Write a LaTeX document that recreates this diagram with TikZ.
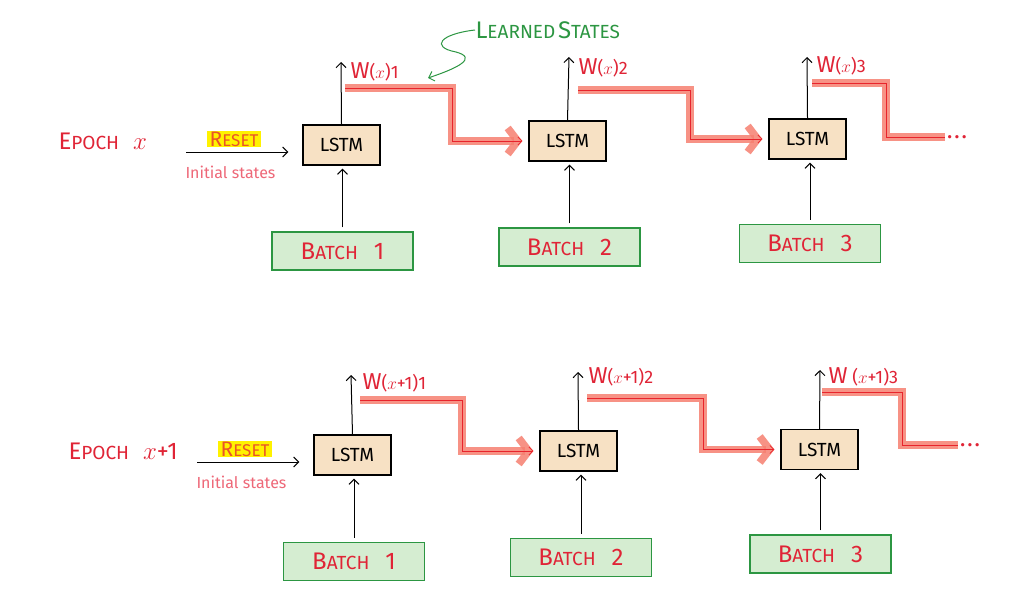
\documentclass[tikz,border=0pt]{standalone}
\usepackage{fontspec}
\setmainfont{Fira Sans}
\usetikzlibrary{arrows.meta,positioning,calc}

\definecolor{inkred}{RGB}{224,36,54}
\definecolor{softred}{RGB}{238,104,120}
\definecolor{glowred}{RGB}{246,128,112}
\definecolor{corered}{RGB}{232,36,44}
\definecolor{lstmfill}{RGB}{247,225,196}
\definecolor{batchfill}{RGB}{213,237,209}
\definecolor{batchline}{RGB}{44,150,66}
\definecolor{hilite}{RGB}{255,242,0}
\definecolor{resetred}{RGB}{234,84,40}

% first letter big, rest smaller (hand lettered small caps)
\newcommand{\bigsc}[2]{{\fontsize{24}{28}\selectfont #1}{\fontsize{19}{22}\selectfont #2}}
\newcommand{\smallsc}[2]{{\fontsize{21}{24}\selectfont #1}{\fontsize{17}{20}\selectfont #2}}
\newcommand{\wlab}[1]{{\fontsize{23}{26}\selectfont W}{\fontsize{18}{21}\selectfont #1}}
\newcommand{\learnedpath}[2][]{\draw[stateglow,#1] #2; \draw[statecore,#1] #2;}

\tikzset{
  lstm/.style={draw=black,fill=lstmfill,line width=1.2pt,minimum width=77pt,minimum height=40pt,
    font=\fontsize{19}{22}\selectfont},
  batch/.style={draw=batchline,fill=batchfill,line width=1.2pt,minimum width=141pt,minimum height=38pt,
    text=inkred,font=\fontsize{24}{28}\selectfont},
  wlabel/.style={anchor=west,text=inkred,inner sep=0pt,font=\fontsize{18}{21}\selectfont},
  epoch/.style={anchor=west,text=inkred,inner sep=0pt,font=\fontsize{24}{28}\selectfont},
  reset/.style={fill=hilite,text=resetred,inner xsep=3pt,inner ysep=1pt},
  initlabel/.style={anchor=west,text=softred,inner sep=0pt,font=\fontsize{16}{19}\selectfont},
  more/.style={anchor=west,text=inkred,inner sep=0pt,font=\fontsize{18}{20}\selectfont\bfseries},
  stateglow/.style={draw=glowred,opacity=0.85,line width=7.5pt,-{Straight Barb[length=10pt,width=26pt]}},
  statecore/.style={draw=corered,line width=0.8pt,-{Straight Barb[length=4pt,width=8pt]}},
}

\begin{document}
\begin{tikzpicture}[x=1pt,y=-1pt,>={Straight Barb[length=5pt,width=10pt]},line width=1pt]
  \fill[white] (0,0) rectangle (1024,599);
  \useasboundingbox (0,0) rectangle (1024,599);

  %% epoch x
  \node[epoch] (epochA) at (58,141) {\bigsc{E}{POCH}\hspace{14pt}$x$};
  \node[reset] (resetA) at (234,139) {\smallsc{R}{ESET}};
  \node[initlabel] (initA) at (185,172) {Initial states};
  \coordinate (rA) at (186,152);

  \node[lstm] (lstmA1) at (341.5,145) {LSTM};
  \node[lstm] (lstmA2) at (567.5,141) {LSTM};
  \node[lstm] (lstmA3) at (807.5,139) {LSTM};

  \node[batch] (batchA1) at (342.5,251) {\bigsc{B}{ATCH}\hspace{16pt}1};
  \node[batch] (batchA2) at (569.5,247) {\bigsc{B}{ATCH}\hspace{16pt}2};
  \node[batch] (batchA3) at (810,243.5) {\bigsc{B}{ATCH}\hspace{16pt}3};

  \coordinate (outA1) at (341,62);
  \coordinate (outA2) at (569,57);
  \coordinate (outA3) at (807,57);
  \node[wlabel] (wA1) at (350,72) {\wlab{($x$)1}};
  \node[wlabel] (wA2) at (578,68) {\wlab{($x$)2}};
  \node[wlabel] (wA3) at (816,66) {\wlab{($x$)3}};

  \coordinate (sA1) at (345,88);  \coordinate (kA1) at (452,88);
  \coordinate (sA2) at (578,90);  \coordinate (kA2) at (690,90);
  \coordinate (sA3) at (812,83);  \coordinate (kA3) at (886,83);
  \node[more] (moreA) at (947,137) {.\hspace{3pt}.\hspace{3pt}.};

  \draw[->,shorten >=14pt] (rA) -- (rA -| lstmA1.west);
  \foreach \i in {1,2,3} {
    \draw[->,shorten <=4pt,shorten >=3pt] (batchA\i.north) -- (batchA\i.north |- lstmA\i.south);
    \draw[->] (lstmA\i.north) -- (outA\i);
  }
  \learnedpath{(sA1) -- (kA1) -- (kA1 |- lstmA2.west) -- ([xshift=-6pt]lstmA2.west)}
  \learnedpath{(sA2) -- (kA2) -- (kA2 |- lstmA3.west) -- ([xshift=-6pt]lstmA3.west)}
  \learnedpath[-]{(sA3) -- (kA3) -- (kA3 |- moreA.west) -- ([xshift=-2pt]moreA.west)}

  %% learned states note
  \node[anchor=west,text=batchline,inner sep=0pt] (learned) at (475,30) {\bigsc{L}{EARNED}\ \bigsc{S}{TATES}};
  \coordinate (lsTip) at (428,78);
  \draw[->,batchline] (learned.west) .. controls (440,34) and (430,47) .. (456,52)
    .. controls (478,58) and (458,68) .. (lsTip);

  %% epoch x+1
  \node[epoch] (epochB) at (68,451) {\bigsc{E}{POCH}\hspace{14pt}$x$+1};
  \node[reset] (resetB) at (245,449) {\smallsc{R}{ESET}};
  \node[initlabel] (initB) at (196,482) {Initial states};
  \coordinate (rB) at (197,462);

  \node[lstm] (lstmB1) at (352.5,455) {LSTM};
  \node[lstm] (lstmB2) at (578.5,451) {LSTM};
  \node[lstm] (lstmB3) at (819.5,449.5) {LSTM};

  \node[batch] (batchB1) at (354,561.5) {\bigsc{B}{ATCH}\hspace{16pt}1};
  \node[batch] (batchB2) at (581,557.5) {\bigsc{B}{ATCH}\hspace{16pt}2};
  \node[batch] (batchB3) at (820.5,554) {\bigsc{B}{ATCH}\hspace{16pt}3};

  \coordinate (outB1) at (351,375);
  \coordinate (outB2) at (578,372);
  \coordinate (outB3) at (820,370);
  \node[wlabel] (wB1) at (362,383) {\wlab{($x$+1)1}};
  \node[wlabel] (wB2) at (588,377) {\wlab{($x$+1)2}};
  \node[wlabel] (wB3) at (828,377) {\wlab{~($x$+1)3}};

  \coordinate (sB1) at (360,400);  \coordinate (kB1) at (462,400);
  \coordinate (sB2) at (587,398);  \coordinate (kB2) at (703,398);
  \coordinate (sB3) at (822,392);  \coordinate (kB3) at (902,392);
  \node[more] (moreB) at (960,445) {.\hspace{3pt}.\hspace{3pt}.};

  \draw[->,shorten >=14pt] (rB) -- (rB -| lstmB1.west);
  \foreach \i in {1,2,3} {
    \draw[->,shorten <=4pt,shorten >=3pt] (batchB\i.north) -- (batchB\i.north |- lstmB\i.south);
    \draw[->] (lstmB\i.north) -- (outB\i);
  }
  \learnedpath{(sB1) -- (kB1) -- (kB1 |- lstmB2.west) -- ([xshift=-6pt]lstmB2.west)}
  \learnedpath{(sB2) -- (kB2) -- (kB2 |- lstmB3.west) -- ([xshift=-6pt]lstmB3.west)}
  \learnedpath[-]{(sB3) -- (kB3) -- (kB3 |- moreB.west) -- ([xshift=-2pt]moreB.west)}
\end{tikzpicture}
\end{document}
